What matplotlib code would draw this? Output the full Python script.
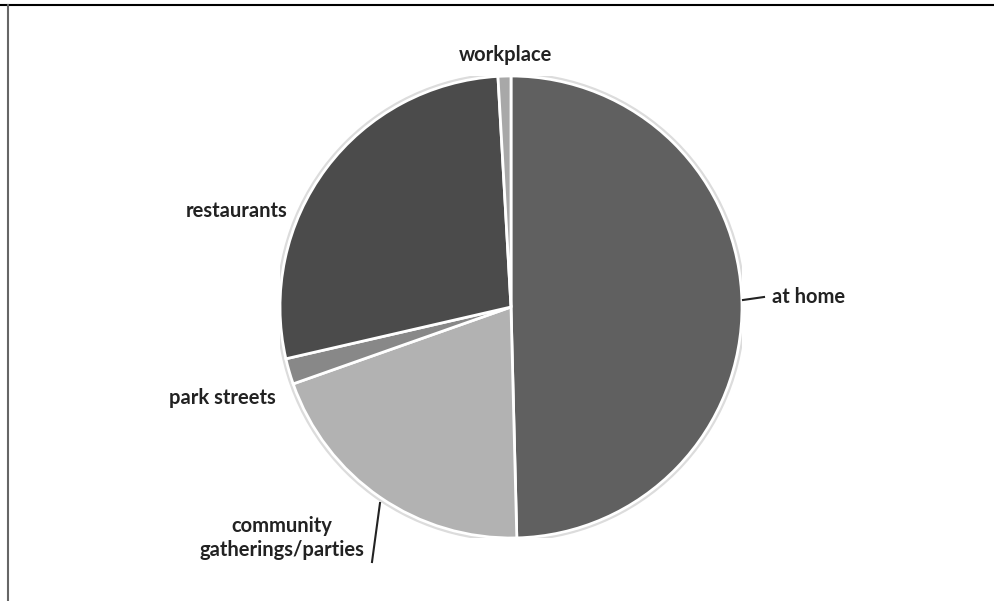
import matplotlib.pyplot as plt
from matplotlib.patches import Circle

# places where food is consumed (share, %)
labels = ["at home", "community\ngatherings/parties", "park streets", "restaurants", "workplace"]
shares = [49.6, 20.0, 1.8, 27.7, 0.9]
colors = ["#606060", "#b2b2b2", "#888888", "#4b4b4b", "#a8a8a8"]

# label positions in pixels (x, y from top) and alignment
label_pos = [(772, 297, "left"), (282, 538, "center"), (222, 398, "center"),
             (237, 211, "center"), (505, 55, "center")]

W, H = 994, 601
fig = plt.figure(figsize=(W / 100, H / 100), dpi=100)
fig.patch.set_facecolor("white")

cx, cy, r = 511, 307, 231
ax = fig.add_axes([(cx - r) / W, (H - cy - r) / H, 2 * r / W, 2 * r / H])

ax.pie(shares, colors=colors, startangle=90, counterclock=False, radius=1,
       wedgeprops=dict(edgecolor="white", linewidth=2))

# soft grey rim behind the pie
ax.add_patch(Circle((0, 0), 1.008, facecolor="none", edgecolor="#dcdcdc", linewidth=2.5, zorder=0))

ax.set_xlim(-1, 1)
ax.set_ylim(-1, 1)
ax.set_aspect("equal")
ax.axis("off")

font = dict(family=["Lato", "DejaVu Sans"], fontweight="bold", fontsize=14.5, color="#222222")
for lab, (x, y, ha) in zip(labels, label_pos):
    fig.text(x / W, 1 - y / H, lab, ha=ha, va="center", linespacing=1.3, **font)

# leader lines
def pline(x0, y0, x1, y1):
    fig.add_artist(plt.Line2D([x0 / W, x1 / W], [1 - y0 / H, 1 - y1 / H],
                              color="#222222", linewidth=1.5))

pline(743, 300, 764, 297)
pline(380, 503, 372, 562)

# frame lines (top and left)
fig.add_artist(plt.Line2D([0, 1], [1 - 5 / H, 1 - 5 / H], color="black", linewidth=1.5))
fig.add_artist(plt.Line2D([8 / W, 8 / W], [0, 1 - 5 / H], color="#666666", linewidth=1.5))

fig.savefig("out.png", dpi=100)
